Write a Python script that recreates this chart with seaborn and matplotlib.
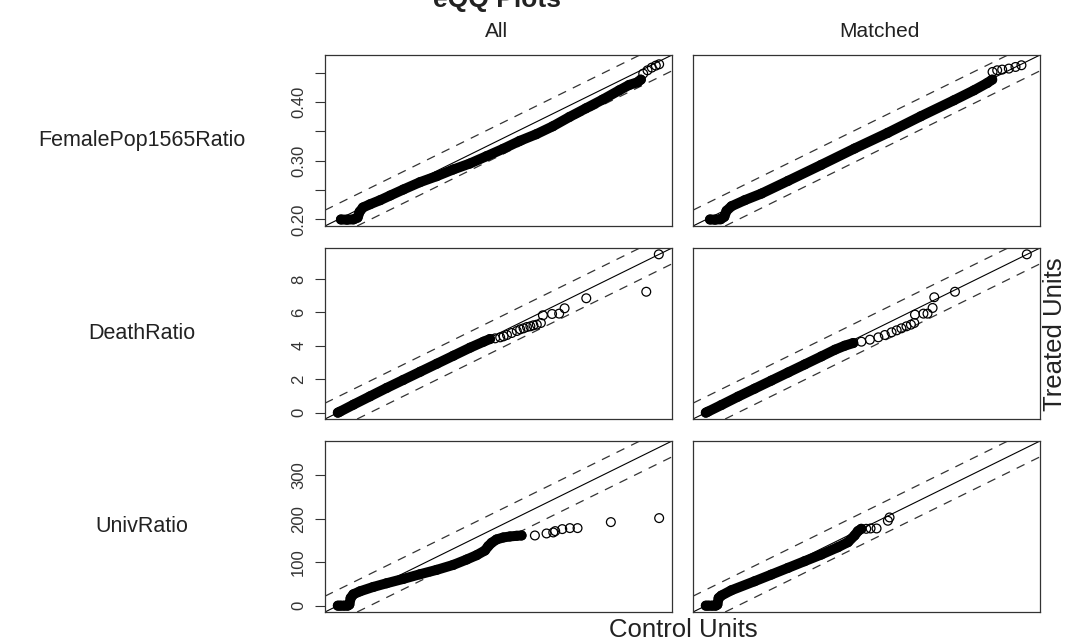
import numpy as np
import pandas as pd
import matplotlib
matplotlib.use("Agg")
import matplotlib.pyplot as plt
import seaborn as sns

sns.set_theme(style="white")
plt.rcParams['font.family'] = ['Liberation Sans', 'DejaVu Sans']

# ---------------- labels ----------------
title = "eQQ Plots"
column_titles = ["All", "Matched"]
row_titles = ["FemalePop1565Ratio", "DeathRatio", "UnivRatio"]
x_title = "Control Units"
y_title = "Treated Units"

# ---------------- data: (control quantile, treated quantile) ----------------
# FemalePop1565Ratio - All
fem_all_band_ctrl = [0.2021, 0.2072, 0.2127, 0.2161, 0.2178, 0.2206, 0.2267, 0.2351, 0.2435, 0.2546,
                     0.2686, 0.2826, 0.2965, 0.3105, 0.3245, 0.3384, 0.3524, 0.3663, 0.3803, 0.3943,
                     0.4082, 0.4222, 0.4362, 0.4445, 0.4515, 0.4543]
fem_all_band_trt = [0.1998, 0.1995, 0.2000, 0.2030, 0.2129, 0.2203, 0.2259, 0.2328, 0.2407, 0.2510,
                    0.2635, 0.2737, 0.2851, 0.2953, 0.3078, 0.3203, 0.3339, 0.3453, 0.3589, 0.3748,
                    0.3896, 0.4044, 0.4203, 0.4294, 0.4340, 0.4385]
fem_all_tail_ctrl = [0.4563, 0.4599, 0.4635, 0.4669, 0.4697]
fem_all_tail_trt = [0.4487, 0.4544, 0.4590, 0.4624, 0.4647]

# FemalePop1565Ratio - Matched
fem_mat_band_ctrl = [0.2030, 0.2072, 0.2119, 0.2150, 0.2169, 0.2211, 0.2323, 0.2463, 0.2686, 0.2965,
                     0.3245, 0.3524, 0.3803, 0.4082, 0.4250, 0.4362, 0.4403]
fem_mat_band_trt = [0.1998, 0.1995, 0.2002, 0.2044, 0.2146, 0.2225, 0.2328, 0.2441, 0.2657, 0.2930,
                    0.3209, 0.3476, 0.3760, 0.4033, 0.4203, 0.4328, 0.4385]
fem_mat_tail_ctrl = [0.4406, 0.4445, 0.4487, 0.4543, 0.4599, 0.4649]
fem_mat_tail_trt = [0.4516, 0.4544, 0.4556, 0.4573, 0.4601, 0.4630]

# DeathRatio - All
death_all_band_ctrl = [0.00, 0.06, 0.46, 0.95, 1.44, 1.93, 2.43, 2.92, 3.41, 3.90, 4.30, 4.49]
death_all_band_trt = [0.00, 0.06, 0.48, 0.98, 1.48, 1.96, 2.45, 2.93, 3.41, 3.89, 4.25, 4.41]
death_all_tail_ctrl = [4.64, 4.79, 4.89, 4.99, 5.13, 5.28, 5.38, 5.48, 5.58, 5.68, 5.77, 5.87, 5.99,
                       6.05, 6.32, 6.53, 6.69, 7.33, 9.10, 9.47]
death_all_tail_trt = [4.45, 4.51, 4.57, 4.65, 4.77, 4.89, 4.99, 5.05, 5.13, 5.17, 5.23, 5.27, 5.37,
                      5.83, 5.91, 5.93, 6.25, 6.85, 7.24, 9.48]

# DeathRatio - Matched
death_mat_band_ctrl = [0.00, 0.06, 0.46, 0.95, 1.44, 1.93, 2.43, 2.92, 3.41, 3.81, 4.10, 4.35]
death_mat_band_trt = [0.00, 0.06, 0.46, 0.96, 1.44, 1.92, 2.41, 2.89, 3.37, 3.77, 4.01, 4.17]
death_mat_tail_ctrl = [4.59, 4.84, 5.09, 5.28, 5.48, 5.63, 5.77, 5.92, 6.05, 6.15,
                       6.17, 6.42, 6.54, 6.69, 6.74, 7.35, 9.47]
death_mat_tail_trt = [4.25, 4.37, 4.51, 4.65, 4.81, 4.93, 5.05, 5.17, 5.27, 5.37,
                      5.87, 5.93, 5.93, 6.27, 6.91, 7.24, 9.48]

# UnivRatio - All
univ_all_band_ctrl = [0.0, 3.0, 7.0, 11.0, 13.0, 14.5, 17.5, 25.1, 40.1, 55.2, 74.1, 93.0, 111.8,
                      130.7, 145.8, 157.1, 166.5, 170.3, 174.1, 179.7, 187.3, 194.8, 202.4, 208.0]
univ_all_band_trt = [0.0, 0.0, 0.0, 0.0, 2.3, 17.7, 26.1, 33.0, 43.0, 51.5, 61.5, 72.2, 82.2,
                     93.7, 106.0, 116.0, 126.7, 136.7, 144.4, 152.1, 156.7, 159.0, 160.5, 161.3]
univ_all_tail_ctrl = [223.1, 236.3, 243.9, 246.1, 254.1, 262.7, 271.4, 309.1, 363.8]
univ_all_tail_trt = [161.3, 165.9, 168.2, 171.3, 175.9, 178.2, 178.2, 192.0, 201.2]

# UnivRatio - Matched
univ_mat_band_ctrl = [0.0, 3.0, 7.0, 11.0, 13.0, 14.5, 17.5, 28.8, 55.2, 74.1, 93.0, 111.8, 130.7,
                      149.6, 160.9, 168.4, 172.2, 176.0]
univ_mat_band_trt = [0.0, 0.0, 0.0, 0.0, 2.3, 17.7, 23.1, 35.3, 56.1, 71.4, 86.8, 102.2, 117.5,
                     134.4, 145.9, 161.3, 171.3, 176.6]
univ_mat_tail_ctrl = [181.6, 186.5, 193.3, 206.1, 208.0]
univ_mat_tail_trt = [176.6, 177.4, 177.4, 195.1, 202.7]

# y-axis ticks per row
fem_ticks = [0.20, 0.25, 0.30, 0.35, 0.40, 0.45]
fem_tick_labels = ["0.20", "", "0.30", "", "0.40", ""]
death_ticks = [0, 2, 4, 6, 8]
death_tick_labels = ["0", "2", "4", "6", "8"]
univ_ticks = [0, 100, 200, 300]
univ_tick_labels = ["0", "100", "200", "300"]

panels = [
    [(fem_all_band_ctrl, fem_all_band_trt, fem_all_tail_ctrl, fem_all_tail_trt),
     (fem_mat_band_ctrl, fem_mat_band_trt, fem_mat_tail_ctrl, fem_mat_tail_trt)],
    [(death_all_band_ctrl, death_all_band_trt, death_all_tail_ctrl, death_all_tail_trt),
     (death_mat_band_ctrl, death_mat_band_trt, death_mat_tail_ctrl, death_mat_tail_trt)],
    [(univ_all_band_ctrl, univ_all_band_trt, univ_all_tail_ctrl, univ_all_tail_trt),
     (univ_mat_band_ctrl, univ_mat_band_trt, univ_mat_tail_ctrl, univ_mat_tail_trt)],
]
row_ticks = [(fem_ticks, fem_tick_labels), (death_ticks, death_tick_labels),
             (univ_ticks, univ_tick_labels)]

# ---------------- figure ----------------
W, H = 1069, 642
fig = plt.figure(figsize=(W / 100, H / 100), dpi=100)
fig.patch.set_facecolor("white")

col_left_px = [325, 693]
col_w_px = 347
row_top_px = [55, 248, 441]
row_h_px = 171


def fx(px):
    return px / W


def fy(py):
    return 1 - py / H


for r in range(3):
    # common range of this variable, R-style 4% expansion
    vals = []
    for p in panels[r]:
        for arr in p:
            vals.extend(arr)
    mn, mx = min(vals), max(vals)
    rng = mx - mn
    lim = (mn - 0.04 * rng, mx + 0.04 * rng)
    for c in range(2):
        ax = fig.add_axes([fx(col_left_px[c]), fy(row_top_px[r] + row_h_px),
                           fx(col_w_px), row_h_px / H])
        bc, bt, tc, tt = panels[r][c]
        band = pd.DataFrame({"ctrl": bc, "trt": bt})
        tail = pd.DataFrame({"ctrl": tc, "trt": tt})
        # reference lines
        ax.axline((mn, mn), slope=1, color="black", lw=0.8, zorder=1)
        ax.axline((mn, mn + 0.1 * rng), slope=1, color="#333333", lw=0.9,
                  ls=(0, (7, 6)), zorder=1)
        ax.axline((mn, mn - 0.1 * rng), slope=1, color="#333333", lw=0.9,
                  ls=(0, (7, 6)), zorder=1)
        # dense run of overlapping quantile points
        sns.lineplot(data=band, x="ctrl", y="trt", sort=False, estimator=None,
                     color="black", lw=7.2, solid_capstyle="round",
                     solid_joinstyle="round", ax=ax, zorder=2)
        sns.scatterplot(data=band, x="ctrl", y="trt", marker="o", s=40,
                        facecolors="none", edgecolor="black", linewidth=0.9,
                        ax=ax, zorder=3)
        # sparse quantile points
        sns.scatterplot(data=tail, x="ctrl", y="trt", marker="o", s=40,
                        facecolors="none", edgecolor="black", linewidth=0.9,
                        ax=ax, zorder=3)
        ax.set_xlim(lim)
        ax.set_ylim(lim)
        ax.set_xlabel("")
        ax.set_ylabel("")
        ax.set_xticks([])
        if c == 0:
            ticks, labels = row_ticks[r]
            ax.set_yticks(ticks)
            ax.set_yticklabels(labels, rotation=90, va="center")
            ax.tick_params(axis="y", direction="out", length=7.5, width=0.8,
                           color="#333333", pad=6, labelsize=12,
                           labelcolor="#333333", left=True)
        else:
            ax.set_yticks([])
        for s in ax.spines.values():
            s.set_visible(True)
            s.set_color("#333333")
            s.set_linewidth(0.9)

# ---------------- texts ----------------
fig.text(fx(497), fy(7), title, ha="center", va="baseline", fontsize=19,
         fontweight="bold", color="#222222")
fig.text(fx(497), fy(37), column_titles[0], ha="center", va="baseline",
         fontsize=15, color="#222222")
fig.text(fx(879), fy(37), column_titles[1], ha="center", va="baseline",
         fontsize=15, color="#222222")
for r, name in enumerate(row_titles):
    fig.text(fx(142), fy(row_top_px[r] + row_h_px / 2), name, ha="center",
             va="center", fontsize=15.5, color="#222222")
fig.text(fx(683), fy(630), x_title, ha="center", va="center", fontsize=18.5,
         color="#222222")
fig.text(fx(1055), fy(334), y_title, ha="center", va="center", rotation=90,
         fontsize=18.5, color="#222222")

fig.savefig("out.png", dpi=100, facecolor="white")
